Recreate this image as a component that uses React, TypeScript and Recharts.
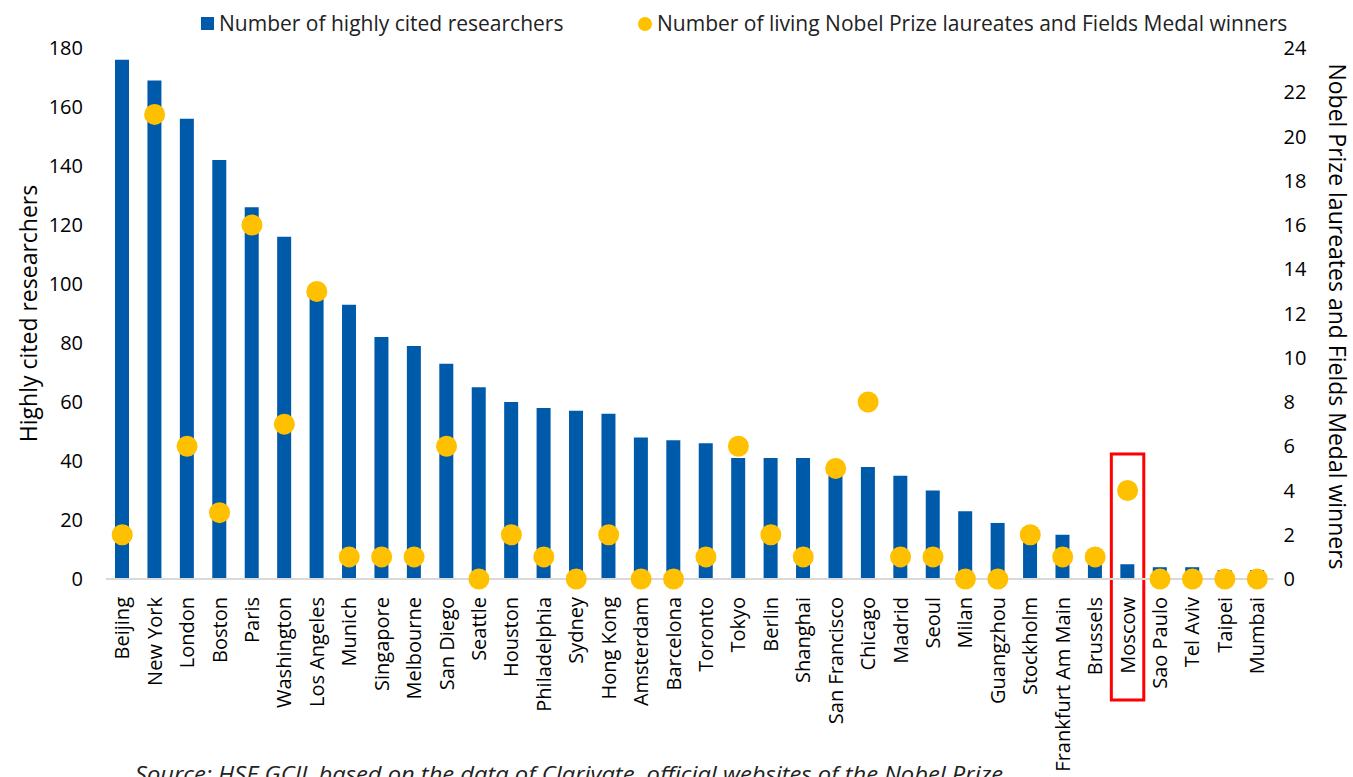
import React from 'react';
import { ComposedChart, Bar, Line, XAxis, YAxis, ReferenceArea } from 'recharts';

const cities = [
  'Beijing', 'New York', 'London', 'Boston', 'Paris', 'Washington', 'Los Angeles', 'Munich',
  'Singapore', 'Melbourne', 'San Diego', 'Seattle', 'Houston', 'Philadelphia', 'Sydney',
  'Hong Kong', 'Amsterdam', 'Barcelona', 'Toronto', 'Tokyo', 'Berlin', 'Shanghai',
  'San Francisco', 'Chicago', 'Madrid', 'Seoul', 'Milan', 'Guangzhou', 'Stockholm',
  'Frankfurt Am Main', 'Brussels', 'Moscow', 'Sao Paulo', 'Tel Aviv', 'Taipei', 'Mumbai',
];

const researchers = [
  176, 169, 156, 142, 126, 116, 98, 93, 82, 79, 73, 65, 60, 58, 57, 56, 48, 47, 46, 41, 41, 41,
  40, 38, 35, 30, 23, 19, 16, 15, 10, 5, 4, 4, 3, 3,
];

const nobel = [
  2, 21, 6, 3, 16, 7, 13, 1, 1, 1, 6, 0, 2, 1, 0, 2, 0, 0, 1, 6, 2, 1, 5, 8, 1, 1, 0, 0, 2, 1, 1,
  4, 0, 0, 0, 0,
];

const leftTicks = [0, 20, 40, 60, 80, 100, 120, 140, 160, 180];
const rightTicks = [0, 2, 4, 6, 8, 10, 12, 14, 16, 18, 20, 22, 24];

const highlightCity = 'Moscow';
const highlightRange = [-41, 42.4];

const seriesNames = {
  researchers: 'Number of highly cited researchers',
  nobel: 'Number of living Nobel Prize laureates and Fields Medal winners',
};
const leftTitle = 'Highly cited researchers';
const rightTitle = 'Nobel Prize laureates and Fields Medal winners';
const sourceText = 'Source: HSE GCIL based on the data of Clarivate, official websites of the Nobel Prize';

const BLUE = '#005AAA';
const YELLOW = '#FFC000';
const FONT = '"Open Sans", sans-serif';

const data = cities.map((c, i) => ({ city: c, researchers: researchers[i], nobel: nobel[i] }));

const CityTick = (props: any) => {
  const { x, y, payload } = props;
  return (
    <text
      transform={`translate(${x},${y}) rotate(-90)`}
      textAnchor="end"
      dy="0.35em"
      fontFamily={FONT}
      fontSize={20}
      fill="#000"
    >
      {payload.value}
    </text>
  );
};

export default function App() {
  return (
    <div style={{ position: 'relative', width: 1353, height: 777, overflow: 'hidden', background: '#fff' }}>
      <style>{`body{margin:0;}`}</style>
      <ComposedChart
        width={1353}
        height={777}
        data={data}
        margin={{ top: 48, right: 0, bottom: 78, left: 0 }}
      >
        <XAxis
          dataKey="city"
          interval={0}
          height={120}
          tick={<CityTick />}
          tickLine={false}
          tickSize={0}
          tickMargin={18}
          axisLine={{ stroke: '#D9D9D9', strokeWidth: 2 }}
        />
        <YAxis
          yAxisId="left"
          orientation="left"
          width={106}
          domain={[0, 180]}
          ticks={leftTicks}
          interval={0}
          axisLine={false}
          tickLine={false}
          tickSize={0}
          tickMargin={23}
          tick={{ fontFamily: FONT, fontSize: 20, fill: '#000' }}
          label={(p: any) => {
            const vb = p.viewBox;
            const cy = vb.y + vb.height / 2;
            return (
              <text
                x={28}
                y={cy}
                transform={`rotate(-90, 28, ${cy})`}
                textAnchor="middle"
                dominantBaseline="central"
                fontFamily={FONT}
                fontSize={23}
                fill="#000"
              >
                {leftTitle}
              </text>
            );
          }}
        />
        <YAxis
          yAxisId="right"
          orientation="right"
          width={79.5}
          domain={[0, 24]}
          ticks={rightTicks}
          interval={0}
          axisLine={false}
          tickLine={false}
          tickSize={0}
          tickMargin={10}
          tick={{ fontFamily: FONT, fontSize: 20, fill: '#000' }}
          label={(p: any) => {
            const vb = p.viewBox;
            const cy = vb.y + vb.height / 2 + 3;
            return (
              <text
                x={1338}
                y={cy}
                transform={`rotate(90, 1338, ${cy})`}
                textAnchor="middle"
                dominantBaseline="central"
                fontFamily={FONT}
                fontSize={23}
                fill="#000"
              >
                {rightTitle}
              </text>
            );
          }}
        />
        <Bar
          yAxisId="left"
          dataKey="researchers"
          name={seriesNames.researchers}
          fill={BLUE}
          barSize={14}
          isAnimationActive={false}
        />
        <Line
          yAxisId="right"
          dataKey="nobel"
          name={seriesNames.nobel}
          stroke="none"
          strokeWidth={0}
          dot={{ r: 10.5, fill: YELLOW, stroke: YELLOW, strokeWidth: 0 }}
          activeDot={false}
          isAnimationActive={false}
        />
        <ReferenceArea
          yAxisId="left"
          x1={highlightCity}
          x2={highlightCity}
          y1={highlightRange[0]}
          y2={highlightRange[1]}
          fill="none"
          fillOpacity={0}
          stroke="#FF0000"
          strokeWidth={3}
          ifOverflow="visible"
        />
      </ComposedChart>
      <div
        style={{
          position: 'absolute',
          top: 9,
          left: 0,
          width: 1353,
          height: 30,
          fontFamily: FONT,
          fontSize: 21,
          color: '#222',
        }}
      >
        <div style={{ position: 'absolute', left: 201, top: 8, width: 13, height: 13, background: BLUE }} />
        <div style={{ position: 'absolute', left: 219, top: 0, whiteSpace: 'nowrap', lineHeight: '28px' }}>
          {seriesNames.researchers}
        </div>
        <div
          style={{
            position: 'absolute',
            left: 638,
            top: 8,
            width: 14,
            height: 14,
            borderRadius: 7,
            background: YELLOW,
          }}
        />
        <div style={{ position: 'absolute', left: 657, top: 0, whiteSpace: 'nowrap', lineHeight: '28px' }}>
          {seriesNames.nobel}
        </div>
      </div>
      <svg
        width={1353}
        height={777}
        style={{ position: 'absolute', left: 0, top: 0, pointerEvents: 'none' }}
      >
        <text
          x={135}
          y={782}
          textLength={868}
          lengthAdjust="spacingAndGlyphs"
          fontFamily={FONT}
          fontStyle="italic"
          fontSize={21}
          fill="#222"
        >
          {sourceText}
        </text>
      </svg>
    </div>
  );
}
